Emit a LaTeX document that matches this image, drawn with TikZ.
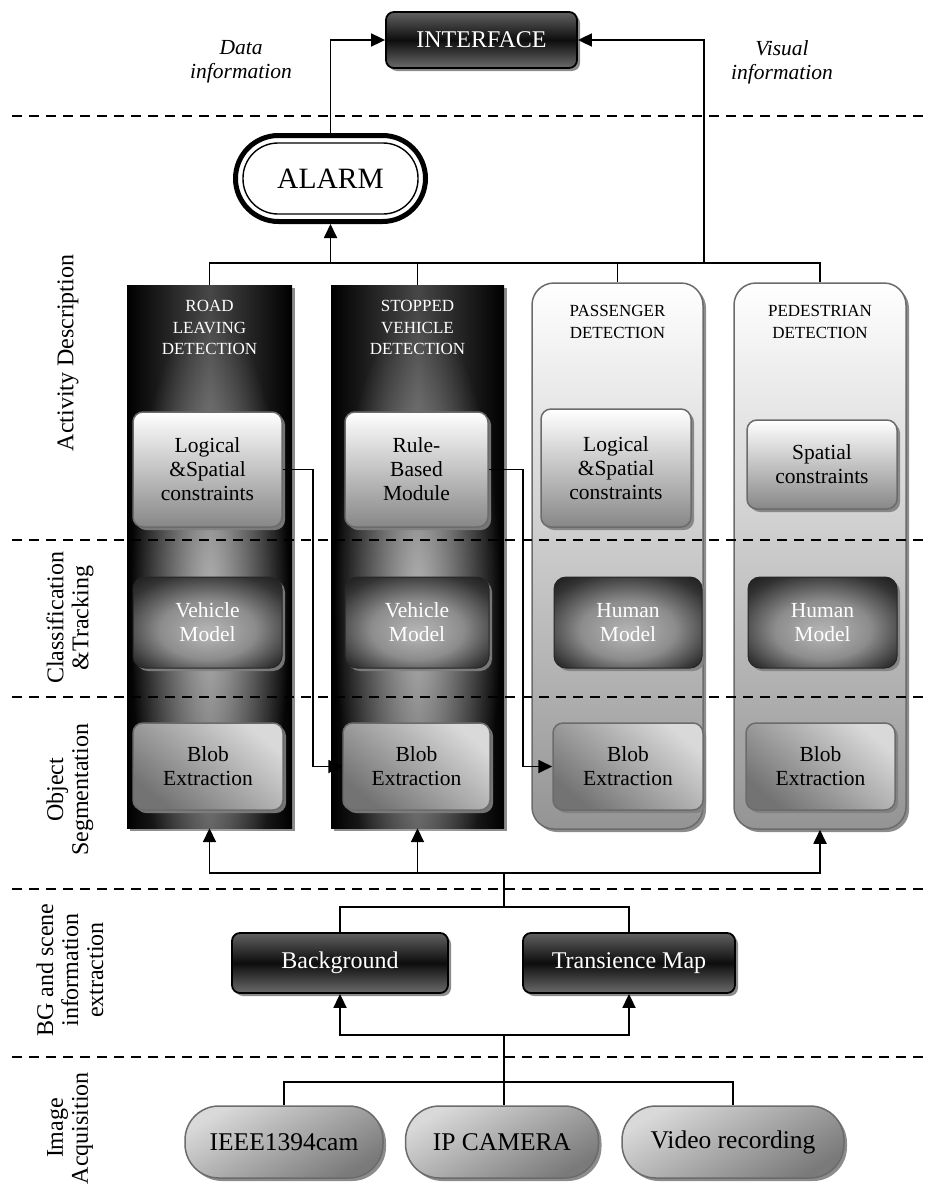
\documentclass[tikz,border=0pt]{standalone}
\usepackage{fontspec}
\setmainfont{Liberation Serif}
\usetikzlibrary{arrows.meta,shadows,calc,fadings}
\tikzfading[name=glowfade, inner color=transparent!0, outer color=transparent!100]
\pgfdeclareradialshading{mglow}{\pgfpoint{0bp}{-6bp}}{color(0bp)=(black!28); color(16bp)=(black!45); color(30bp)=(black!80); color(42bp)=(black!97); color(50bp)=(black)}
\newcommand{\myfs}[2]{\fontsize{#1}{#2}\selectfont}
\begin{document}
\begin{tikzpicture}[x=1pt,y=-1pt,
  txt/.style={align=center, inner sep=0pt, font=\myfs{21.5}{24}},
  ln/.style={line width=1.8pt},
  arr/.style={line width=1.8pt,-{Triangle[length=14pt,width=13pt]}},
  sep/.style={line width=2.2pt,dash pattern=on 10pt off 7pt},
  shad/.style={drop shadow={shadow xshift=3pt,shadow yshift=-3pt,fill=black!50,opacity=0.9}},
  darkbar/.style={shad, rounded corners=8pt, draw=black, line width=1.8pt, top color=black!62, bottom color=black!58, middle color=black!95, text=white, txt},
  darkcol/.style={shad, left color=black, right color=black, middle color=black!72, inner sep=0pt},
  lightcol/.style={shad, rounded corners=22pt, draw=black!58, line width=1.5pt, top color=white, bottom color=black!42, inner sep=0pt},
  lightbox/.style={shad, rounded corners=10pt, draw=black!58, line width=1.5pt, top color=white, bottom color=black!47, txt},
  modelbox/.style={shad, rounded corners=12pt, shade, shading=mglow, draw=black!85, line width=1pt, text=white, txt},
  blobbox/.style={shad, rounded corners=10pt, draw=black!58, line width=1.5pt, top color=black!15, bottom color=black!55, shading angle=-40, txt},
  srcbox/.style={shad, rounded corners=34pt, draw=black!58, line width=1.5pt, top color=black!15, bottom color=black!52, shading angle=30, txt, font=\myfs{25.5}{28}},
  lab/.style={rotate=90, align=center, inner sep=0pt, font=\myfs{24}{25}},
  ital/.style={align=center, inner sep=0pt, font=\itshape\myfs{21.5}{24}},
  ttl/.style={align=center, inner sep=0pt, font=\myfs{17}{21.5}},
]
\useasboundingbox (0,0) rectangle (930,1191);

% ---------- columns ----------
\node[darkcol, minimum width=165pt, minimum height=543pt] (c1) at (209.5,556.5) {};
\node[darkcol, minimum width=173pt, minimum height=543pt] (c2) at (417.5,556.5) {};
\node[lightcol, minimum width=171pt, minimum height=546pt] (c3) at (617.5,556) {};
\node[lightcol, minimum width=172pt, minimum height=546pt] (c4) at (820,556) {};
\fill[white, fill opacity=0.6, path fading=glowfade] (209.5,610) ellipse [x radius=80pt, y radius=300pt];
\fill[white, fill opacity=0.6, path fading=glowfade] (417.5,610) ellipse [x radius=84pt, y radius=300pt];

% ---------- section separators ----------
\draw[sep] (12,116) -- (930,116);
\draw[sep] (12,540) -- (930,540);
\draw[sep] (12,697) -- (930,697);
\draw[sep] (12,889) -- (930,889);
\draw[sep] (12,1057) -- (930,1057);

% ---------- section labels ----------
\node[lab] (la) at (68,353) {Activity Description};
\node[lab] (lb) at (70,618) {Classification\\\&Tracking};
\node[lab] (lc) at (70,790) {Object\\Segmentation};
\node[lab] (ld) at (70,970) {BG and scene\\information\\extraction};
\node[lab] (le) at (70,1128) {Image\\Acquisition};

% ---------- top ----------
\node[darkbar, minimum width=191pt, minimum height=56pt, font=\myfs{24}{26}] (interface) at (481.5,40) {INTERFACE};
\node[ital] (dinfo) at (241,62) {Data\\information};
\node[ital] (vinfo) at (782,62) {Visual\\information};
\node[draw=black, line width=5pt, rounded corners=43pt, minimum width=190pt, minimum height=86pt, inner sep=0pt, fill=white, font=\myfs{29.5}{30}] (alarm) at (330.5,178.5) {ALARM};
\draw[line width=1.4pt, rounded corners=35pt] ($(alarm.south west)+(10,-10)$) rectangle ($(alarm.north east)+(-10,10)$);

% ---------- column titles ----------
\node[ttl, text=white] (t1) at (209.5,327.5) {ROAD\\LEAVING\\DETECTION};
\node[ttl, text=white] (t2) at (417.5,327.5) {STOPPED\\VEHICLE\\DETECTION};
\node[ttl] (t3) at (617.5,322) {PASSENGER\\DETECTION};
\node[ttl] (t4) at (820,322) {PEDESTRIAN\\DETECTION};

% ---------- row 1 ----------
\node[lightbox, minimum width=149pt, minimum height=115pt] (l1) at (207.5,469.5) {Logical\\\&Spatial\\constraints};
\node[lightbox, minimum width=143pt, minimum height=115pt] (r2) at (416.5,469.5) {Rule-\\Based\\Module};
\node[lightbox, minimum width=150pt, minimum height=118pt] (l3) at (616,468) {Logical\\\&Spatial\\constraints};
\node[lightbox, minimum width=150pt, minimum height=89pt] (s4) at (822,464.5) {Spatial\\constraints};

% ---------- row 2 ----------
\node[modelbox, minimum width=149pt, minimum height=91pt] (v1) at (207.5,622.5) {Vehicle\\Model};
\node[modelbox, minimum width=144pt, minimum height=91pt] (v2) at (417,622.5) {Vehicle\\Model};
\node[modelbox, minimum width=148pt, minimum height=91pt] (h3) at (628,622.5) {Human\\Model};
\node[modelbox, minimum width=149pt, minimum height=91pt] (h4) at (822.5,622.5) {Human\\Model};

% ---------- row 3 ----------
\node[blobbox, minimum width=150pt, minimum height=87pt] (b1) at (208,766.5) {Blob\\Extraction};
\node[blobbox, minimum width=147pt, minimum height=87pt] (b2) at (416.5,766.5) {Blob\\Extraction};
\node[blobbox, minimum width=150pt, minimum height=87pt] (b3) at (628,766.5) {Blob\\Extraction};
\node[blobbox, minimum width=149pt, minimum height=87pt] (b4) at (820.5,766.5) {Blob\\Extraction};

% ---------- BG ----------
\node[darkbar, minimum width=216pt, minimum height=60pt, font=\myfs{24}{26}] (bg) at (340,963) {Background};
\node[darkbar, minimum width=212pt, minimum height=60pt, font=\myfs{24}{26}] (tm) at (629,963) {Transience Map};

% ---------- sources ----------
\node[srcbox, minimum width=198pt, minimum height=72pt] (ieee) at (284,1142) {IEEE1394cam};
\node[srcbox, minimum width=193pt, minimum height=72pt] (ip) at (502,1142) {IP CAMERA};
\node[srcbox, minimum width=222pt, minimum height=72pt] (video) at (733,1142) {Video recording};

% ---------- connectors ----------
\coordinate (vis) at (704,263);
\draw[ln] (c1.north) -- (c1.north |- vis) -- (c4.north |- vis) -- (c4.north);
\draw[ln] (c2.north) -- (c2.north |- vis);
\draw[ln] (c3.north) -- (c3.north |- vis);
\draw[arr] (alarm.south |- vis) -- (alarm.south);
\draw[arr] (alarm.north) |- (interface.west);
\draw[arr] (vis) |- (interface.east);

\draw[arr] (l1.east) -- ++(30,0) |- (b2.west);
\draw[arr] (r2.east) -- ++(34,0) |- (b3.west);

\coordinate (j1) at (504,873);
\coordinate (j1b) at (504,907);
\draw[arr] (j1) -| (c1.south);
\draw[arr] (j1) -| (c2.south);
\draw[arr] (j1) -| (c4.south);
\draw[ln] (j1b) -- (j1);
\draw[ln] (bg.north) |- (j1b) -| (tm.north);

\coordinate (j2) at (504,1035);
\coordinate (j3) at (504,1082);
\draw[arr] (j2) -| (bg.south);
\draw[arr] (j2) -| (tm.south);
\draw[ln] (j2) -- (j2 |- ip.north);
\draw[ln] (ieee.north) |- (j3) -| (video.north);
\end{tikzpicture}
\end{document}
